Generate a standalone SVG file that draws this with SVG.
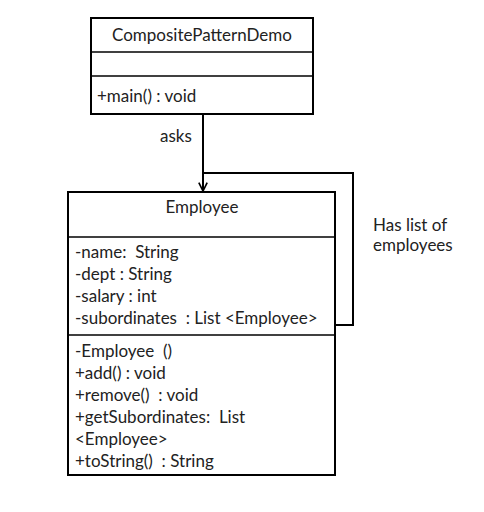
<svg xmlns="http://www.w3.org/2000/svg" width="484" height="512" viewBox="0 0 484 512">
<style>
.box{fill:#fff;stroke:#000;stroke-width:2}
.sep{stroke:#000;stroke-width:1.5}
.t{font-family:Lato,"Open Sans",sans-serif;font-size:17px;fill:#222;white-space:pre}
.c{text-anchor:middle}
.conn{fill:none;stroke:#000;stroke-width:2}
</style>
<defs>
<marker id="arr" viewBox="0 0 12 12" refX="11" refY="6" markerWidth="10" markerHeight="10" orient="auto" markerUnits="userSpaceOnUse">
<path d="M1,1 L11,6 L1,11" fill="none" stroke="#000" stroke-width="2"/>
</marker>
</defs>
<rect width="484" height="512" fill="#fff"/>
<g id="connectors">
<path class="conn" d="M203,114 L203,191" marker-end="url(#arr)"/>
<path class="conn" d="M203,173 L353,173 L353,325 L335,325"/>
<text class="t" x="160" y="142">asks</text>
<text class="t" x="373" y="231">Has list of</text>
<text class="t" x="373" y="251">employees</text>
</g>
<g id="CompositePatternDemo">
<rect class="box" x="91" y="18" width="222" height="96"/>
<line class="sep" x1="91" y1="52" x2="313" y2="52"/>
<line class="sep" x1="91" y1="76" x2="313" y2="76"/>
<text class="t c" x="202" y="41">CompositePatternDemo</text>
<text class="t" x="97" y="102">+main() : void</text>
</g>
<g id="Employee">
<rect class="box" x="68" y="192" width="267" height="283"/>
<line class="sep" x1="68" y1="237" x2="335" y2="237"/>
<line class="sep" x1="68" y1="335" x2="335" y2="335"/>
<text class="t c" x="202" y="213">Employee</text>
<text class="t" x="75" y="258">-name:  String</text>
<text class="t" x="75" y="280">-dept : String</text>
<text class="t" x="75" y="302">-salary : int</text>
<text class="t" x="75" y="324">-subordinates  : List &lt;Employee&gt;</text>
<text class="t" x="75" y="357">-Employee  ()</text>
<text class="t" x="75" y="379">+add() : void</text>
<text class="t" x="75" y="401">+remove()  : void</text>
<text class="t" x="75" y="423">+getSubordinates:  List</text>
<text class="t" x="75" y="445">&lt;Employee&gt;</text>
<text class="t" x="75" y="467">+toString()  : String</text>
</g>
</svg>
